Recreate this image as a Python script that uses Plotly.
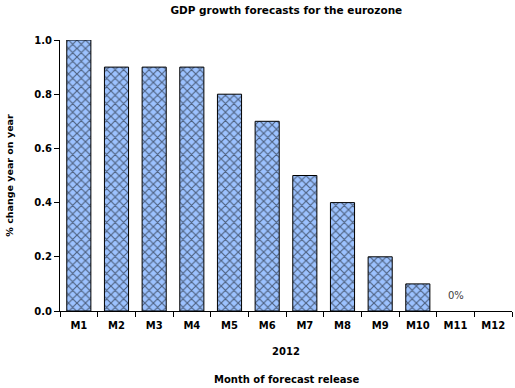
import plotly.graph_objects as go

categories = ["M1", "M2", "M3", "M4", "M5", "M6", "M7", "M8", "M9", "M10", "M11", "M12"]
values = [1.0, 0.9, 0.9, 0.9, 0.8, 0.7, 0.5, 0.4, 0.2, 0.1, 0.0, None]
y_ticks = [0.0, 0.2, 0.4, 0.6, 0.8, 1.0]

FONT = "DejaVu Sans"
FILL = "#9CC2FF"

fig = go.Figure()
fig.add_trace(go.Bar(
    x=categories, y=values,
    marker=dict(
        color=FILL,
        line=dict(color="black", width=[0 if (v is None or v == 0) else 1 for v in values]),
        pattern=dict(shape="x", size=6, solidity=0.35, fgcolor="black", bgcolor=FILL),
    ),
    width=0.64,
))

fig.add_annotation(x="M11", y=0, text="0%", showarrow=False, yshift=16,
                   font=dict(family=FONT, size=10, color="#404040"))
fig.add_annotation(x=0.5, y=0, xref="paper", yref="paper", text="<b>Month of forecast release</b>",
                   showarrow=False, yshift=-76, font=dict(family=FONT, size=10, color="black"))

fig.update_layout(
    width=515, height=388,
    margin=dict(l=60, r=3, t=40, b=77),
    paper_bgcolor="white", plot_bgcolor="white",
    showlegend=False,
    title=dict(text="<b>GDP growth forecasts for the eurozone</b>", x=0.556, xanchor="center",
               y=0.984, yanchor="top", font=dict(family=FONT, size=10.5, color="black")),
    xaxis=dict(
        type="category", categoryorder="array", categoryarray=categories,
        tickvals=categories, ticktext=["<b>%s</b>" % c for c in categories],
        showline=True, linecolor="black", linewidth=1,
        ticks="outside", tickson="boundaries", ticklen=5, tickcolor="black",
        ticklabelstandoff=5,
        tickfont=dict(family=FONT, size=10, color="black"),
        title=dict(text="<b>2012</b>", font=dict(family=FONT, size=10, color="black"), standoff=17),
        showgrid=False, range=[-0.5, 11.5], automargin=False,
    ),
    yaxis=dict(
        range=[0, 1.0], tickvals=y_ticks, ticktext=["<b>%.1f</b>" % v for v in y_ticks],
        showline=True, linecolor="black", linewidth=1,
        ticks="outside", ticklen=5, tickcolor="black",
        tickfont=dict(family=FONT, size=10, color="black"),
        showgrid=False, zeroline=False, automargin=False,
        title=dict(text="<b>% change year on year</b>", font=dict(family=FONT, size=9.5, color="black"), standoff=18),
    ),
)

fig.write_html("out.html", config={"displayModeBar": False},
               post_script="document.body.style.margin='0';")
